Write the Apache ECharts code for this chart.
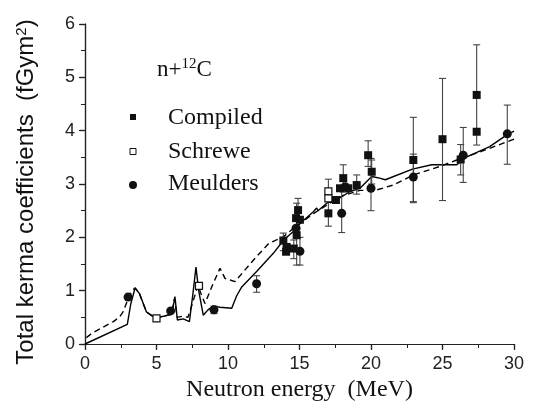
<!DOCTYPE html>
<html>
<head>
    <meta charset="utf-8">
    <title>Total kerma coefficients n+12C</title>
    <script src="https://cdn.jsdelivr.net/npm/echarts@6.0.0/dist/echarts.min.js"></script>
    <style>
        body, html { margin: 0; padding: 0; width: 100%; height: 100%; overflow: hidden; background: #fff; }
        #main { width: 533px; height: 413px; }
    </style>
</head>
<body>
    <div id="main"></div>
    <script>
        // calculated curves [E (MeV), kerma]
        const calcSolid = [
            [0, 0], [2.96, 0.37], [3.2, 0.75], [3.5, 1.05], [3.8, 0.95], [4.3, 0.6], [4.9, 0.49],
            [5.5, 0.52], [6.06, 0.56], [6.2, 0.75], [6.29, 0.89], [6.46, 0.45], [6.87, 0.47],
            [7.3, 0.42], [7.55, 0.95], [7.76, 1.44], [7.95, 1.0], [8.27, 0.54], [8.6, 0.64],
            [8.97, 0.71], [9.44, 0.69], [10.26, 0.67], [10.6, 0.9], [10.96, 1.07], [12.0, 1.36],
            [13.17, 1.7], [13.9, 1.95], [14.57, 2.11], [15.03, 2.26], [15.97, 2.48], [16.2, 2.55],
            [16.3, 2.5], [16.9, 2.64], [17.6, 2.7], [18.53, 2.86], [19.23, 2.92], [20.05, 3.14],
            [20.6, 3.11], [21.0, 3.08], [22.9, 3.28], [24.24, 3.36], [26.0, 3.36], [26.7, 3.51],
            [28.3, 3.7], [29.5, 3.92], [30, 3.99]
        ];
        const calcDashed = [
            [0.1, 0.12], [0.47, 0.2], [1.98, 0.42], [2.4, 0.5], [2.68, 0.61], [3.03, 0.86],
            [3.3, 1.0], [3.5, 1.05], [3.8, 0.95], [4.3, 0.6], [4.9, 0.49], [5.5, 0.52],
            [6.06, 0.56], [6.25, 0.85], [6.45, 0.5], [6.8, 0.52], [7.2, 0.5], [7.5, 0.75],
            [7.9, 1.1], [8.1, 0.95], [8.39, 0.76], [8.86, 1.07], [9.44, 1.42], [9.79, 1.23],
            [10.49, 1.17], [11.19, 1.39], [12.0, 1.64], [12.87, 1.89], [13.87, 2.01], [14.5, 2.15],
            [15.0, 2.25], [16.0, 2.45], [17.0, 2.62], [18.0, 2.78], [19.23, 2.88], [20.28, 2.88],
            [21.56, 2.98], [22.96, 3.17], [24.83, 3.33], [26.0, 3.45], [27.4, 3.58], [30, 3.84]
        ];

        // measured points [E, kerma]
        const compiledPts = [
            [13.87, 1.94], [14.1, 1.82], [14.06, 1.73], [14.6, 1.79], [14.76, 2.36], [15.03, 2.33],
            [14.9, 2.51], [14.8, 2.04], [17.02, 2.45], [17.55, 2.7], [17.83, 2.92], [18.06, 3.11],
            [18.41, 2.92], [19.0, 2.98], [19.8, 3.54], [20.05, 3.23], [22.96, 3.45], [25.0, 3.84],
            [26.27, 3.46], [27.39, 4.67], [27.39, 3.98]
        ];
        const schrewePts = [[5.0, 0.48], [7.97, 1.09], [17.02, 2.86], [17.02, 2.73]];
        const meuldersPts = [
            [3.01, 0.88], [5.99, 0.62], [9.02, 0.64], [12.0, 1.13], [14.76, 2.17], [15.03, 1.74],
            [17.95, 2.45], [18.2, 2.95], [20.0, 2.92], [22.96, 3.13], [26.45, 3.54], [29.53, 3.94]
        ];

        // error bars [E, low, high]
        const errBars = [
            [13.87, 1.75, 2.08], [14.6, 1.6, 1.95], [14.9, 2.3, 2.73], [14.8, 1.48, 2.64],
            [17.02, 2.21, 3.09], [18.06, 2.85, 3.36], [19.0, 2.81, 3.17], [19.8, 3.33, 3.81],
            [20.05, 3.0, 3.45], [22.96, 2.67, 4.25], [25.0, 2.69, 4.98], [26.27, 3.17, 3.74],
            [27.39, 3.73, 5.61], [9.02, 0.57, 0.71], [12.0, 0.97, 1.28], [15.03, 1.48, 2.0],
            [17.95, 2.09, 2.95], [20.0, 2.5, 3.48], [22.96, 2.65, 3.56], [26.45, 3.03, 4.06],
            [29.53, 3.37, 4.48]
        ];

        const legendNames = ['Compiled', 'Schrewe', 'Meulders'];

        var myChart = echarts.init(document.getElementById('main'));

        const axisLineStyle = { color: '#222', width: 1.2 };

        const option = {
            backgroundColor: '#fff',
            animation: false,
            grid: { left: 85, right: 19, top: 24, bottom: 69, outerBoundsMode: 'none' },
            xAxis: [{
                type: 'value', min: 0, max: 30, interval: 5,
                name: 'Neutron energy  (MeV)', nameLocation: 'middle', nameGap: 29,
                nameTextStyle: { fontFamily: 'Liberation Serif', fontSize: 24, color: '#111' },
                axisLine: { lineStyle: axisLineStyle },
                axisTick: { length: 6, lineStyle: axisLineStyle },
                minorTick: { show: true, splitNumber: 2, length: 4, lineStyle: { color: '#222' } },
                axisLabel: { fontFamily: 'Liberation Sans', fontSize: 18, color: '#222', margin: 11 },
                splitLine: { show: false }
            }, {
                type: 'value', min: 0, max: 30, interval: 5, position: 'top',
                axisLine: { lineStyle: axisLineStyle },
                axisTick: { inside: true, length: 5, lineStyle: axisLineStyle },
                minorTick: { show: true, splitNumber: 2, length: 3, lineStyle: { color: '#222' } },
                axisLabel: { show: false },
                splitLine: { show: false }
            }],
            yAxis: [{
                type: 'value', min: 0, max: 6, interval: 1,
                name: '{a|Total kerma coefficients  (fGym}{s|2}{a|)}', nameLocation: 'middle', nameGap: 46,
                nameTextStyle: {
                    padding: [0, 16, 0, 0],
                    rich: {
                        a: { fontFamily: 'Liberation Sans', fontSize: 24, color: '#111' },
                        s: { fontFamily: 'Liberation Sans', fontSize: 15, color: '#111', verticalAlign: 'top', padding: [0, 0, 10, 0] }
                    }
                },
                axisLine: { lineStyle: axisLineStyle },
                axisTick: { length: 6, lineStyle: axisLineStyle },
                minorTick: { show: true, splitNumber: 2, length: 4, lineStyle: { color: '#222' } },
                axisLabel: { fontFamily: 'Liberation Sans', fontSize: 18, color: '#222', margin: 10 },
                splitLine: { show: false }
            }, {
                type: 'value', min: 0, max: 6, interval: 1, position: 'right',
                axisLine: { lineStyle: axisLineStyle },
                axisTick: { inside: true, length: 5, lineStyle: axisLineStyle },
                minorTick: { show: true, splitNumber: 2, length: 3, lineStyle: { color: '#222' } },
                axisLabel: { show: false },
                splitLine: { show: false }
            }],
            series: [{
                type: 'line', data: calcSolid, showSymbol: false, smooth: false,
                lineStyle: { color: '#000', width: 1.4 }, z: 2
            }, {
                type: 'line', data: calcDashed, showSymbol: false,
                lineStyle: { color: '#000', width: 1.4, type: [6, 4] }, z: 2
            }, {
                type: 'custom', data: errBars, z: 3,
                renderItem: function (params, api) {
                    const x = api.value(0);
                    const top = api.coord([x, api.value(2)]);
                    const bot = api.coord([x, api.value(1)]);
                    const w = 3.5;
                    const st = { stroke: '#444', lineWidth: 1.1 };
                    return {
                        type: 'group',
                        children: [
                            { type: 'line', shape: { x1: top[0], y1: top[1], x2: bot[0], y2: bot[1] }, style: st },
                            { type: 'line', shape: { x1: top[0] - w, y1: top[1], x2: top[0] + w, y2: top[1] }, style: st },
                            { type: 'line', shape: { x1: bot[0] - w, y1: bot[1], x2: bot[0] + w, y2: bot[1] }, style: st }
                        ]
                    };
                }
            }, {
                name: legendNames[0], type: 'scatter', data: compiledPts, symbol: 'rect', symbolSize: 8,
                itemStyle: { color: '#111', opacity: 1 }, z: 4
            }, {
                name: legendNames[1], type: 'scatter', data: schrewePts, symbol: 'rect', symbolSize: 7,
                itemStyle: { color: '#fff', borderColor: '#111', borderWidth: 1.2, opacity: 1 }, z: 5
            }, {
                name: legendNames[2], type: 'scatter', data: meuldersPts, symbol: 'circle', symbolSize: 9,
                itemStyle: { color: '#111', opacity: 1 }, z: 4
            }],
            graphic: [{
                type: 'text', left: 157, top: 57,
                style: {
                    text: '{a|n+}{s|12}{a|C}',
                    rich: {
                        a: { fontFamily: 'Liberation Serif', fontSize: 23, fill: '#111' },
                        s: { fontFamily: 'Liberation Serif', fontSize: 15, fill: '#111', verticalAlign: 'top', padding: [0, 0, 10, 0] }
                    }
                }
            }, {
                type: 'rect', shape: { x: 130, y: 114, width: 6, height: 6 }, style: { fill: '#111' }
            }, {
                type: 'rect', shape: { x: 130, y: 148.5, width: 6, height: 6 }, style: { fill: '#fff', stroke: '#111', lineWidth: 1 }
            }, {
                type: 'circle', shape: { cx: 133, cy: 185, r: 4 }, style: { fill: '#111' }
            }, {
                type: 'text', x: 168, y: 118,
                style: { text: legendNames[0], fontFamily: 'Liberation Serif', fontSize: 24, fill: '#111', verticalAlign: 'middle' }
            }, {
                type: 'text', x: 168, y: 152,
                style: { text: legendNames[1], fontFamily: 'Liberation Serif', fontSize: 24, fill: '#111', verticalAlign: 'middle' }
            }, {
                type: 'text', x: 168, y: 184,
                style: { text: legendNames[2], fontFamily: 'Liberation Serif', fontSize: 24, fill: '#111', verticalAlign: 'middle' }
            }]
        };

        myChart.setOption(option);

        window.addEventListener('resize', function () {
            myChart.resize();
        });
    </script>
</body>
</html>
